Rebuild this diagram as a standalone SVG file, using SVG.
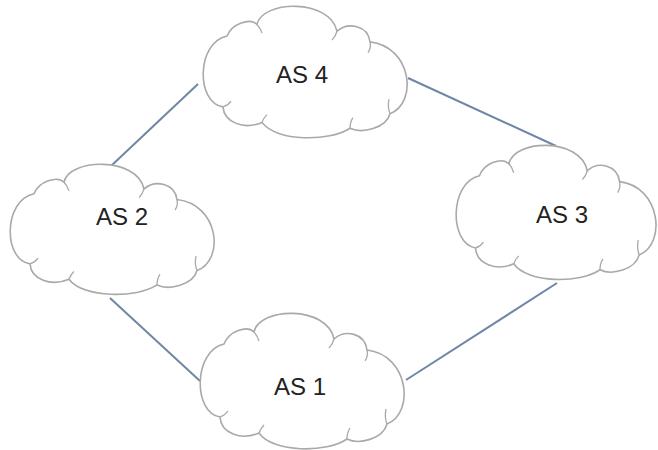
<svg xmlns="http://www.w3.org/2000/svg" width="658" height="450" viewBox="0 0 658 450">
<defs>
<style>
.cloud{fill:#fff;stroke:#a9a9a9;stroke-width:1.6;vector-effect:non-scaling-stroke}
.curl{fill:none;stroke:#a9a9a9;stroke-width:1.3;vector-effect:non-scaling-stroke}
.lbl{font-family:"Liberation Sans",Arial,sans-serif;font-size:24px;fill:#222;text-anchor:middle}
.edge{stroke:#6f86a6;stroke-width:2;fill:none}
</style>
<g id="cloudShape">
<path class="cloud" d="M23,104 C-4,100 -4,38 27,31 C32,18 50,12 57,19 C62,-6 130,-8 137,26 C148,16 168,20 170,37 C212,42 218,100 190,111 C186,126 162,132 150,126 C130,140 76,140 62,120 C44,128 24,120 23,104 Z"/>
<path class="curl" d="M23,104 C26,103 29,101 31,98"/>
<path class="curl" d="M57,19 C60,22 61,25 62,28"/>
<path class="curl" d="M137,26 C136,30 134,33 132,35"/>
<path class="curl" d="M170,37 C171,41 170,45 168,48"/>
<path class="curl" d="M190,111 C188,106 188,101 189,96"/>
<path class="curl" d="M150,126 C150,122 151,118 153,115"/>
<path class="curl" d="M62,120 C63,117 65,114 67,112"/>
</g>
</defs>
<g id="connectors">
<line class="edge" x1="198" y1="84" x2="111" y2="166"/>
<line class="edge" x1="408" y1="78" x2="556" y2="146"/>
<line class="edge" x1="110" y1="298" x2="200" y2="381"/>
<line class="edge" x1="406" y1="380" x2="557" y2="283"/>
</g>
<g id="as4">
<use href="#cloudShape" transform="translate(200,6) scale(1,0.97)"/>
<text class="lbl" x="302" y="83">AS 4</text>
</g>
<g id="as2">
<use href="#cloudShape" transform="translate(7,164) scale(1,0.96)"/>
<text class="lbl" x="122" y="225">AS 2</text>
</g>
<g id="as3">
<use href="#cloudShape" transform="translate(453,145) scale(0.98,0.99)"/>
<text class="lbl" x="562" y="223">AS 3</text>
</g>
<g id="as1">
<use href="#cloudShape" transform="translate(197,313) scale(1,1)"/>
<text class="lbl" x="300" y="395">AS 1</text>
</g>
</svg>
